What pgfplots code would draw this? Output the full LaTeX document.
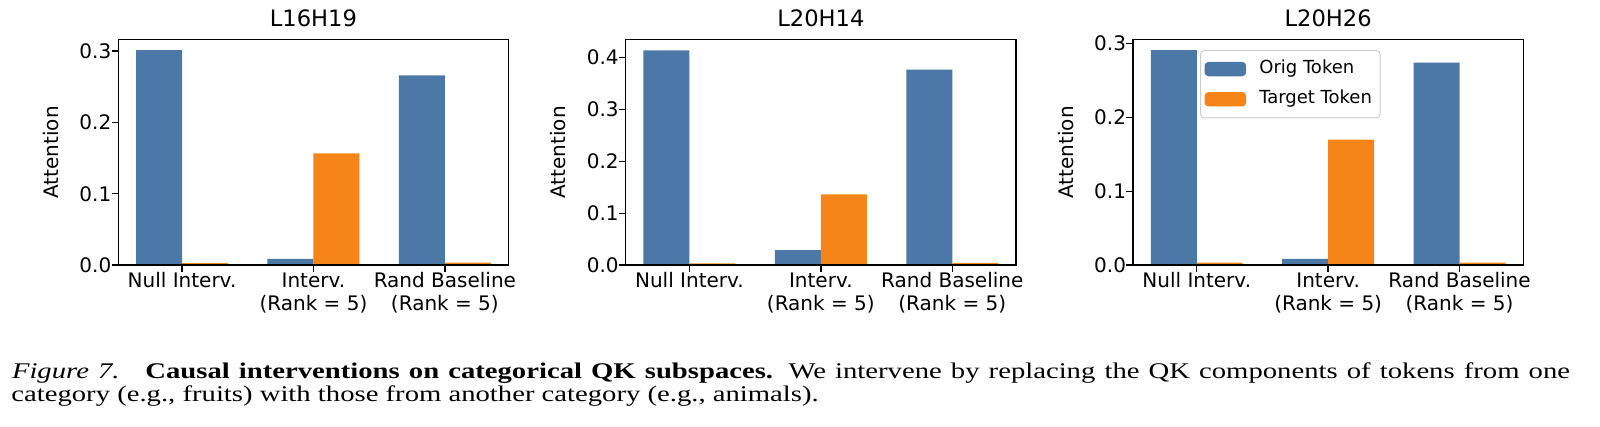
\documentclass[border=0pt]{standalone}
\usepackage{fontspec}
\setmainfont{DejaVu Sans}
\newfontfamily\capfont{Liberation Serif}
\usepackage{graphicx}
\usepackage{pgfplots}
\pgfplotsset{compat=1.18}
\definecolor{cblue}{HTML}{4C78A8}
\definecolor{corange}{HTML}{F58518}
\pgfplotsset{
  panel/.style={
    scale only axis, width=195.15pt, height=112.85pt,
    anchor=south west,
    ybar, bar width=0.35,
    xmin=-0.485, xmax=2.485, ymin=0,
    xtick={0,1,2},
    xticklabels={{\rule{0pt}{7.6pt}Null Interv.},{\rule{0pt}{7.6pt}Interv.\\(Rank = 5)},{\rule{0pt}{7.6pt}Rand Baseline\\(Rank = 5)}},
    xticklabel style={align=center, anchor=north, inner sep=0pt, font=\fontsize{10}{11.5}\selectfont},
    yticklabel style={anchor=east, inner sep=0pt, font=\fontsize{10}{12}\selectfont, /pgf/number format/fixed, /pgf/number format/precision=1, /pgf/number format/fixed zerofill},
    /pgf/number format/assume math mode=true,
    tick align=outside, major tick length=3.3pt,
    tick style={black, line width=0.7pt},
    xtick pos=bottom, ytick pos=left,
    axis line style={line width=0.7pt},
    axis on top,
    ylabel={Attention},
    every axis y label/.style={at={(rel axis cs:0,0.5)}, xshift=-30pt, rotate=90, anchor=base, font=\fontsize{10}{12}\selectfont},
    every axis title/.style={at={(rel axis cs:0.5,1)}, anchor=base, yshift=6.4pt, font=\fontsize{11.3}{13}\selectfont},
  }
}
\begin{document}
\begin{tikzpicture}
\path[use as bounding box] (0,0) rectangle (800pt,213.5pt);

\begin{axis}[panel, at={(59.15pt,80.9pt)}, title={L16H19},
  ymax=0.316, ytick={0,0.1,0.2,0.3}]
\addplot[fill=cblue, draw=none, bar shift=-0.175] coordinates {(0,0.301) (1,0.0087) (2,0.2658)};
\addplot[fill=corange, draw=none, bar shift=0.175] coordinates {(0,0.0028) (1,0.1566) (2,0.0035)};
\end{axis}

\begin{axis}[panel, at={(312.85pt,80.9pt)}, title={L20H14},
  ymax=0.4342, ytick={0,0.1,0.2,0.3,0.4}]
\addplot[fill=cblue, draw=none, bar shift=-0.175] coordinates {(0,0.4135) (1,0.0292) (2,0.3762)};
\addplot[fill=corange, draw=none, bar shift=0.175] coordinates {(0,0.0035) (1,0.1364) (2,0.0045)};
\end{axis}

\begin{axis}[panel, at={(566.5pt,80.9pt)}, title={L20H26},
  ymax=0.3051, ytick={0,0.1,0.2,0.3},
  legend cell align=left,
  legend image code/.code={\fill[#1] (0pt,-3.6pt) rectangle (20.85pt,3.6pt);},
  legend style={at={(rel axis cs:0.1717,0.9535)}, anchor=north west,
    draw=black!20, line width=0.5pt, rounded corners=2pt, fill=white,
    font=\fontsize{9}{10}\selectfont,
    inner xsep=2pt, inner ysep=2.6pt, row sep=1.7pt,
    nodes={inner xsep=2.1pt, inner ysep=2.15pt, text height=6.8pt, text depth=2.3pt},
    /tikz/every odd column/.append style={column sep=4.45pt}}]
\addplot[fill=cblue, draw=none, bar shift=-0.175] coordinates {(0,0.2906) (1,0.0084) (2,0.2738)};
\addplot[fill=corange, draw=none, bar shift=0.175] coordinates {(0,0.0035) (1,0.1697) (2,0.0035)};
\legend{Orig Token, Target Token}
\end{axis}

\node[anchor=base west, inner sep=0pt] at (5.8pt,24pt) {\capfont\fontsize{11.2}{11}\selectfont\scalebox{1.28}[1]{\makebox[608.6pt][s]{\textit{Figure 7.}\hspace{0.9em}\textbf{Causal interventions on categorical QK subspaces.} We intervene by replacing the QK components of tokens from one}}};
\node[anchor=base west, inner sep=0pt] at (5.5pt,12.5pt) {\capfont\fontsize{11.2}{11}\selectfont\scalebox{1.28}[1]{category (e.g., fruits) with those from another category (e.g., animals).}};
\end{tikzpicture}
\end{document}
